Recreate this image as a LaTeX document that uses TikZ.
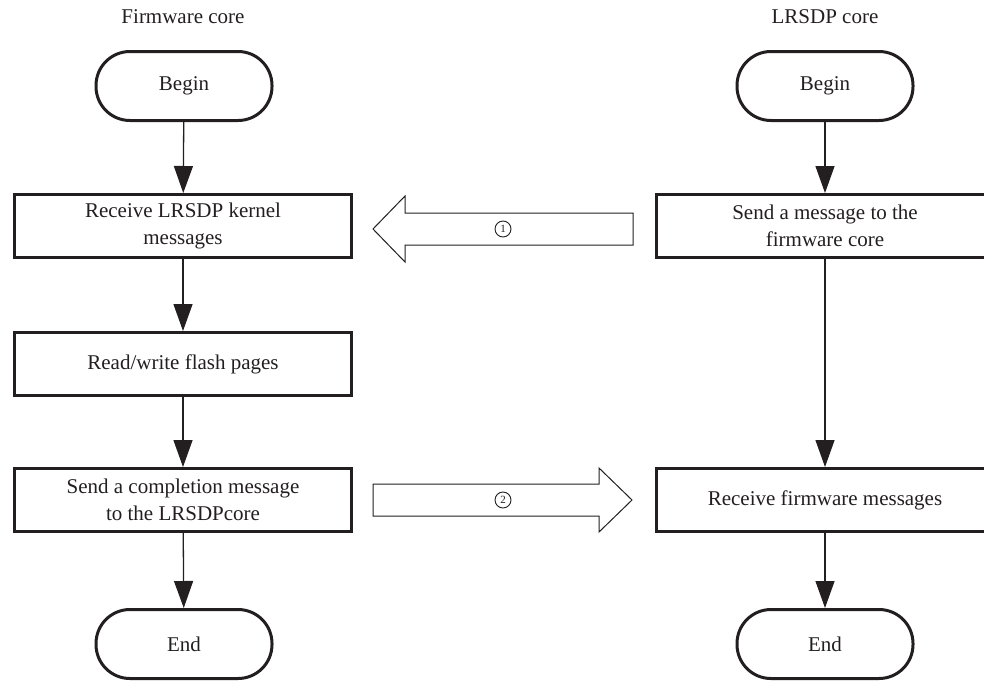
\documentclass[tikz,border=0pt]{standalone}
\usepackage{fontspec}
\setmainfont{Liberation Serif}
\usetikzlibrary{arrows.meta}
\definecolor{ink}{HTML}{231F20}
\begin{document}
\begin{tikzpicture}[x=1pt,y=-1pt,
  every node/.style={text=ink,font=\fontsize{21}{27}\selectfont},
  terminal/.style={draw=ink,line width=3pt,rectangle,rounded corners=34pt,
    minimum width=176pt,minimum height=69pt,inner sep=0pt},
  stepbox/.style={draw=ink,line width=3pt,rectangle,minimum width=337pt,
    minimum height=63pt,inner sep=0pt,align=center},
  flow/.style={draw=ink,line width=1.3pt,-{Triangle[length=27pt,width=19pt]}},
  blockarrow/.style={draw=ink,line width=1pt,fill=white},
  marker/.style={circle,draw=ink,line width=0.9pt,inner sep=0pt,minimum size=16pt,
    font=\fontsize{11}{11}\selectfont}]
\clip (0,0) rectangle (984,680);
\useasboundingbox (0,0) rectangle (984,680);

% column headings
\node (t1) at (183,17) {Firmware core};
\node (t2) at (825,17) {LRSDP core};

% firmware core column
\node[terminal] (b1) at (184,86) {Begin};
\node[stepbox] (r1) at (183,226) {Receive LRSDP kernel\\messages};
\node[stepbox] (r2) at (183,364) {Read/write flash pages};
\node[stepbox] (r3) at (183,500) {Send a completion message\\to the LRSDPcore};
\node[terminal] (e1) at (184,644) {End};

% LRSDP core column
\node[terminal] (b2) at (825,86) {Begin};
\node[stepbox] (s1) at (825,226) {Send a message to the\\firmware core};
\node[stepbox] (s2) at (825,500) {Receive firmware messages};
\node[terminal] (e2) at (825,644) {End};

% flow connectors
\draw[flow] (b1) -- (r1);
\draw[flow] (r1) -- (r2);
\draw[flow] (r2) -- (r3);
\draw[flow] (r3) -- (e1);
\draw[flow] (b2) -- (s1);
\draw[flow] (s1) -- (s2);
\draw[flow] (s2) -- (e2);

% message transfer arrows
\draw[blockarrow] (633,213) -- (405,213) -- (405,196) -- (373,229) -- (405,262)
  -- (405,245) -- (633,245) -- cycle;
\node[marker] (m1) at (503,229) {1};
\draw[blockarrow] (373,484) -- (599,484) -- (599,468) -- (632,500) -- (599,532)
  -- (599,516) -- (373,516) -- cycle;
\node[marker] (m2) at (503,500) {2};
\end{tikzpicture}
\end{document}
